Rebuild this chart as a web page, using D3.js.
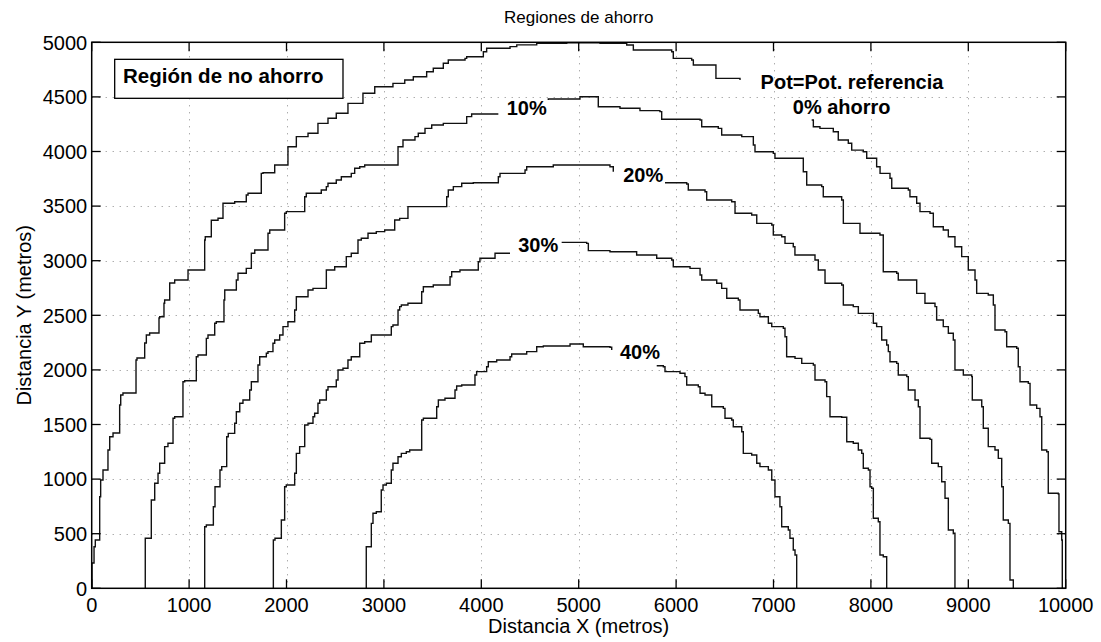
<!DOCTYPE html>
<html>
<head>
<meta charset="utf-8">
<script src="https://cdn.jsdelivr.net/npm/d3@7"></script>
<style>
  body { margin: 0; background: #fff; }
  svg { display: block; }
  text { font-family: "Liberation Sans", Arial, Helvetica, sans-serif; fill: #000; }
</style>
</head>
<body>
<svg id="chart" width="1101" height="642"></svg>
<script>
// Axis ticks
const xTickValues = [0, 1000, 2000, 3000, 4000, 5000, 6000, 7000, 8000, 9000, 10000];
const yTickValues = [0, 500, 1000, 1500, 2000, 2500, 3000, 3500, 4000, 4500, 5000];

// Iso-saving contours (metres). null marks the break left for the inline label.
const contour0 = [
  [3,0],[24,232],[37,381],[82,442],[92,839],[116,992],[167,1083],[185,1266],[219,1388],[287,1422],
  [298,1679],[321,1770],[455,1788],[465,2090],[544,2109],[561,2246],[595,2320],[691,2338],[698,2475],
  [742,2487],[749,2610],[801,2640],[852,2796],[989,2823],[1006,2915],[1160,2915],[1166,3190],[1228,3220],
  [1297,3370],[1348,3389],[1468,3526],[1587,3540],[1605,3601],[1741,3617],[1759,3800],[1879,3806],
  [2015,3876],[2101,4044],[2221,4136],[2323,4167],[2426,4258],[2511,4304],[2631,4350],[2785,4441],
  [2906,4533],[3093,4593],[3214,4624],[3302,4655],[3439,4685],[3507,4731],[3610,4762],[3661,4808],
  [3833,4838],[3850,4853],[4021,4868],[4055,4914],[4295,4945],[4364,4960],[4569,4976],[4877,4991],
  [5013,4996],[5219,4991],[5493,4975],[5561,4929],[5955,4914],[5971,4853],[6160,4838],[6177,4792],
  [6399,4792],[6409,4670],[6656,4655],
  null,
  [7392,4289],[7409,4227],[7477,4212],[7614,4181],[7665,4105],[7768,4075],[7803,4013],[7922,3998],
  [7957,3938],[8059,3861],[8094,3800],[8196,3755],[8214,3663],[8384,3647],[8401,3586],[8470,3526],
  [8504,3449],[8607,3434],[8641,3311],[8743,3281],[8795,3220],[8863,3128],[8932,3037],[9000,2915],
  [9069,2823],[9086,2701],[9205,2686],[9257,2594],[9274,2365],[9377,2350],[9394,2212],[9497,2198],
  [9513,2029],[9531,1892],[9616,1877],[9634,1679],[9702,1648],[9736,1571],[9754,1266],[9805,1251],
  [9821,870],[9924,864],[9931,518],[9959,442],[9965,0]
];

const contour10 = [
  [550,0],[612,458],[647,809],[681,962],[698,1053],[749,1145],[783,1297],[835,1328],[852,1557],
  [937,1571],[955,1892],[1074,1901],[1091,2121],[1177,2136],[1194,2289],[1263,2320],[1279,2427],
  [1358,2441],[1366,2640],[1485,2732],[1502,2823],[1587,2885],[1639,2930],[1674,3068],[1810,3098],
  [1828,3251],[1981,3281],[1998,3434],[2187,3449],[2203,3586],[2357,3617],[2409,3648],[2426,3678],
  [2511,3709],[2563,3739],[2665,3769],[2700,3800],[2752,3846],[2803,3861],[3145,3876],[3196,4044],
  [3319,4105],[3353,4136],[3422,4167],[3491,4212],[3610,4243],[3850,4258],[3901,4319],[4055,4343],
  [4175,4343],
  null,
  [4688,4472],[5013,4481],[5013,4502],[5201,4410],[5424,4396],[5629,4374],[5834,4365],[5852,4295],
  [6246,4289],[6263,4227],[6433,4212],[6468,4151],[6674,4136],[6793,4060],[6810,3998],[6998,3983],
  [7015,3938],[7306,3815],[7341,3693],[7495,3678],[7511,3586],[7700,3556],[7717,3342],[7888,3251],
  [8093,3235],[8127,3159],[8127,2899],[8265,2885],[8281,2823],[8453,2823],[8470,2701],[8555,2610],
  [8658,2579],[8675,2457],[8743,2396],[8795,2335],[8846,2274],[8863,1999],[8949,1953],[9035,1938],
  [9041,1725],[9138,1663],[9154,1465],[9205,1297],[9274,1267],[9308,1190],[9343,930],[9359,625],
  [9411,595],[9428,76],[9462,0]
];

const contour20 = [
  [1160,0],[1177,564],[1249,580],[1266,747],[1317,930],[1335,1083],[1386,1114],[1402,1388],[1468,1419],
  [1485,1511],[1520,1617],[1553,1694],[1622,1724],[1639,1816],[1707,1892],[1725,2045],[1793,2121],
  [1810,2152],[1861,2167],[1879,2244],[1930,2274],[1964,2320],[2015,2396],[2084,2441],[2101,2549],
  [2221,2670],[2272,2732],[2409,2747],[2495,2915],[2614,2945],[2665,3037],[2734,3068],[2768,3190],
  [2837,3205],[2922,3251],[3008,3266],[3111,3281],[3162,3373],[3247,3388],[3337,3495],[3645,3495],
  [3661,3586],[3713,3647],[3799,3678],[3918,3709],[4175,3714],[4192,3769],[4449,3800],[4466,3830],
  [4739,3861],[4877,3876],[5047,3876],[5321,3861],[5355,3815],
  null,
  [5886,3714],[6109,3702],[6125,3647],[6297,3632],[6314,3556],[6571,3540],[6605,3434],[6776,3418],
  [6828,3342],[6982,3327],[6998,3235],[7084,3220],[7118,3159],[7203,3128],[7220,3052],[7426,3006],
  [7460,2915],[7529,2793],[7700,2777],[7717,2594],[7819,2579],[7871,2518],[8025,2427],[8059,2396],
  [8111,2274],[8162,2228],[8179,2167],[8196,2075],[8265,2060],[8281,1953],[8368,1938],[8384,1816],
  [8453,1724],[8487,1663],[8504,1374],[8607,1364],[8624,1145],[8692,1114],[8727,976],[8761,824],
  [8795,534],[8846,504],[8863,137],[8863,0]
];

const contour30 = [
  [1865,0],[1882,442],[1947,458],[1981,625],[1998,930],[2084,946],[2101,1053],[2135,1236],[2187,1297],
  [2221,1495],[2272,1511],[2289,1571],[2323,1603],[2341,1694],[2409,1724],[2426,1816],[2511,1846],
  [2529,1908],[2580,1999],[2631,2015],[2665,2091],[2752,2121],[2803,2244],[2871,2258],[2888,2320],
  [3076,2320],[3093,2396],[3145,2411],[3162,2549],[3179,2579],[3247,2594],[3337,2610],[3388,2610],
  [3405,2716],[3507,2762],[3679,2777],[3696,2853],[3781,2899],[3969,2915],[3986,2991],[4141,3022],
  [4295,3068],
  null,
  [4825,3168],[5082,3159],[5099,3092],[5321,3082],[5595,3052],[5801,3022],[5955,3006],[5971,2945],
  [6143,2930],[6246,2869],[6263,2823],[6417,2793],[6468,2747],[6520,2656],[6639,2640],[6656,2549],
  [6844,2518],[6861,2487],[6947,2427],[6982,2396],[7101,2381],[7118,2304],[7135,2121],[7221,2106],
  [7290,2060],[7409,2045],[7426,1908],[7529,1892],[7546,1755],[7580,1571],[7700,1566],[7752,1342],
  [7819,1328],[7871,1267],[7906,1236],[7922,1099],[7974,1083],[7991,930],[8008,916],[8025,641],
  [8076,610],[8093,305],[8127,289],[8162,0]
];

const contour40 = [
  [2819,0],[2871,381],[2888,595],[2922,687],[2973,701],[2991,900],[3025,946],[3076,962],[3093,1083],
  [3145,1145],[3179,1205],[3230,1236],[3265,1251],[3388,1267],[3405,1541],[3542,1557],[3559,1663],
  [3627,1724],[3730,1740],[3747,1816],[3799,1853],[3935,1862],[3952,1953],[4055,1984],[4072,2029],
  [4158,2075],[4295,2091],[4312,2121],[4466,2146],[4569,2167],[4637,2212],[4911,2219],[4945,2237],
  [4996,2237],[5047,2212],[5321,2207],[5339,2182],
  null,
  [5801,2038],[5869,2029],[5886,1984],[6040,1969],[6091,1938],[6109,1862],[6228,1846],[6246,1786],
  [6297,1770],[6366,1663],[6485,1648],[6502,1557],[6571,1541],[6587,1480],[6674,1434],[6690,1236],
  [6776,1221],[6828,1145],[6861,1114],[6947,1083],[6982,992],[7015,839],[7066,747],[7084,564],
  [7152,534],[7169,458],[7203,351],[7221,305],[7238,0]
];

const contours = [contour0, contour10, contour20, contour30, contour40];

// Inline contour labels (text, x, y in metres)
const contourLabels = [
  { text: "Pot=Pot. referencia", x: 7806, y: 4639 },
  { text: "0% ahorro",           x: 7700, y: 4407 },
  { text: "10%",                 x: 4466, y: 4396 },
  { text: "20%",                 x: 5663, y: 3791 },
  { text: "30%",                 x: 4585, y: 3144 },
  { text: "40%",                 x: 5629, y: 2167 }
];

const svg = d3.select("#chart");
const plot = { left: 91.7, right: 1065.7, top: 42.3, bottom: 588.3 };

const x = d3.scaleLinear().domain([0, 10000]).range([plot.left, plot.right]);
const y = d3.scaleLinear().domain([0, 5000]).range([plot.bottom, plot.top]);

// Dotted grid
const grid = svg.append("g").attr("stroke", "#8a8a8a").attr("stroke-width", 1)
  .attr("stroke-dasharray", "1 6");
grid.selectAll("line.gx").data(xTickValues.slice(1, -1)).join("line")
  .attr("x1", d => Math.round(x(d)) + 0.5).attr("x2", d => Math.round(x(d)) + 0.5)
  .attr("y1", plot.top).attr("y2", plot.bottom);
grid.selectAll("line.gy").data(yTickValues.slice(1, -1)).join("line")
  .attr("y1", d => Math.round(y(d)) + 0.5).attr("y2", d => Math.round(y(d)) + 0.5)
  .attr("x1", plot.left).attr("x2", plot.right);

// Contours as staircases: rising edges go up first, falling edges go across first
function stairs(points) {
  const out = [];
  let prev = null;
  for (const p of points) {
    if (p === null) { out.push(null); prev = null; continue; }
    if (prev) {
      if (p[1] > prev[1]) out.push([prev[0], p[1]]);
      else if (p[1] < prev[1]) out.push([p[0], prev[1]]);
    }
    out.push(p);
    prev = p;
  }
  return out;
}

const line = d3.line()
  .defined(d => d !== null)
  .x(d => x(d[0]))
  .y(d => y(d[1]));

svg.append("defs").append("clipPath").attr("id", "plotclip")
  .append("rect").attr("x", plot.left).attr("y", plot.top)
  .attr("width", plot.right - plot.left).attr("height", plot.bottom - plot.top);

svg.append("g").attr("clip-path", "url(#plotclip)")
  .selectAll("path").data(contours).join("path")
  .attr("d", d => line(stairs(d)))
  .attr("fill", "none").attr("stroke", "#111").attr("stroke-width", 1.4)
  .attr("stroke-linejoin", "miter");

// Contour labels
svg.append("g").selectAll("text").data(contourLabels).join("text")
  .attr("x", d => x(d.x)).attr("y", d => y(d.y)).attr("dy", "0.36em")
  .attr("text-anchor", "middle")
  .attr("font-size", 20).attr("font-weight", "bold")
  .text(d => d.text);

// Annotation box
const box = svg.append("g");
box.append("rect")
  .attr("x", x(236)).attr("y", y(4844))
  .attr("width", x(2580) - x(236)).attr("height", y(4487) - y(4844))
  .attr("fill", "#fff").attr("stroke", "#000").attr("stroke-width", 1.3);
box.append("text")
  .attr("x", x(321)).attr("y", y(4625))
  .attr("font-size", 20.5).attr("font-weight", "bold")
  .text("Región de no ahorro");

// Frame
svg.append("rect")
  .attr("x", plot.left).attr("y", plot.top)
  .attr("width", plot.right - plot.left).attr("height", plot.bottom - plot.top)
  .attr("fill", "none").attr("stroke", "#000").attr("stroke-width", 1.5);

// Inward ticks on all four sides
const tickLen = 9;
const ticks = svg.append("g").attr("stroke", "#000").attr("stroke-width", 1.3);
xTickValues.forEach(v => {
  ticks.append("line").attr("x1", x(v)).attr("x2", x(v)).attr("y1", plot.bottom).attr("y2", plot.bottom - tickLen);
  ticks.append("line").attr("x1", x(v)).attr("x2", x(v)).attr("y1", plot.top).attr("y2", plot.top + tickLen);
});
yTickValues.forEach(v => {
  ticks.append("line").attr("y1", y(v)).attr("y2", y(v)).attr("x1", plot.left).attr("x2", plot.left + tickLen);
  ticks.append("line").attr("y1", y(v)).attr("y2", y(v)).attr("x1", plot.right).attr("x2", plot.right - tickLen);
});

// Tick labels
svg.append("g").selectAll("text").data(xTickValues).join("text")
  .attr("x", d => x(d)).attr("y", 611.5)
  .attr("text-anchor", "middle").attr("font-size", 20)
  .text(d => d);
svg.append("g").selectAll("text").data(yTickValues).join("text")
  .attr("x", plot.left - 4.5).attr("y", d => y(d)).attr("dy", "0.36em")
  .attr("text-anchor", "end").attr("font-size", 20)
  .text(d => d);

// Titles
svg.append("text").attr("x", (plot.left + plot.right) / 2).attr("y", 23)
  .attr("text-anchor", "middle").attr("font-size", 17)
  .text("Regiones de ahorro");
svg.append("text").attr("x", (plot.left + plot.right) / 2).attr("y", 633)
  .attr("text-anchor", "middle").attr("font-size", 20)
  .text("Distancia X (metros)");
svg.append("text")
  .attr("transform", `translate(31,${(plot.top + plot.bottom) / 2}) rotate(-90)`)
  .attr("text-anchor", "middle").attr("font-size", 20)
  .text("Distancia Y (metros)");
</script>
</body>
</html>
